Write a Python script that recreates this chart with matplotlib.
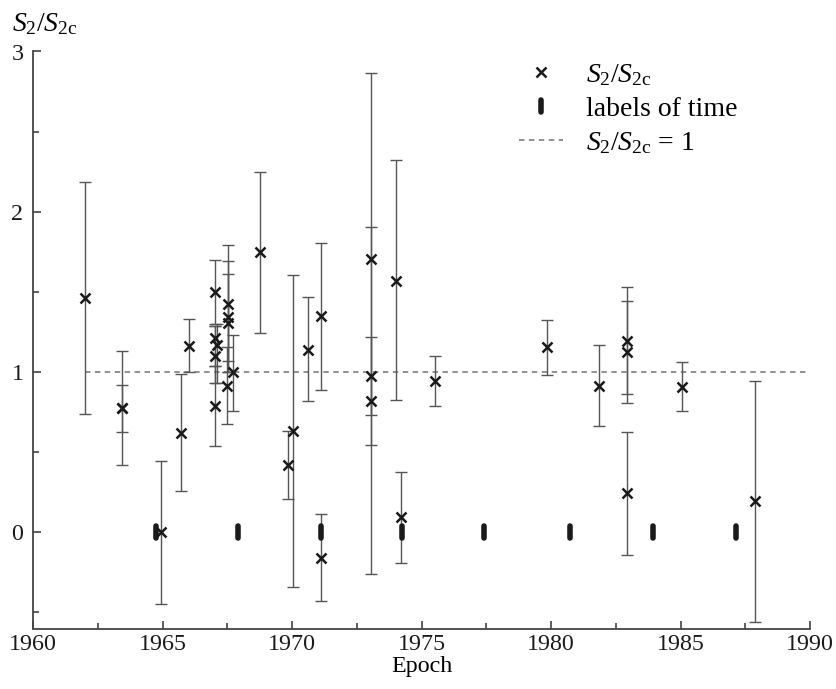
import matplotlib
matplotlib.use("Agg")
import matplotlib.pyplot as plt
import numpy as np
from matplotlib.markers import MarkerStyle

plt.rcParams['font.family'] = 'Liberation Serif'
plt.rcParams['mathtext.fontset'] = 'custom'
plt.rcParams['mathtext.rm'] = 'Liberation Serif'
plt.rcParams['mathtext.it'] = 'Liberation Serif:italic'

# epoch, S2/S2c, lower and upper ends of the error bar
years = [1962.02, 1963.42, 1963.42, 1964.92, 1965.73, 1966.02,
         1967.02, 1967.02, 1967.10, 1967.02, 1967.02,
         1967.53, 1967.53, 1967.53, 1967.47, 1967.70, 1968.76,
         1969.85, 1970.02, 1970.62, 1971.11, 1971.11,
         1973.03, 1973.03, 1973.03, 1974.03, 1974.20, 1975.51,
         1979.86, 1981.87, 1982.92, 1982.92, 1982.92, 1985.04, 1987.88]
ratio = [1.462, 0.775, 0.775, 0.0, 0.621, 1.165,
         1.50, 1.21, 1.17, 1.10, 0.79,
         1.427, 1.344, 1.306, 0.916, 0.999, 1.746,
         0.42, 0.634, 1.14, 1.348, -0.158,
         1.705, 0.974, 0.822, 1.568, 0.095, 0.947,
         1.155, 0.916, 1.192, 1.126, 0.243, 0.908, 0.195]
low = [0.737, 0.419, 0.629, -0.449, 0.257, 0.999,
       1.30, 1.04, 0.933, 0.933, 0.538,
       1.067, 1.0, 1.0, 0.677, 0.760, 1.244,
       0.21, -0.338, 0.818, 0.889, -0.428,
       0.542, 0.729, -0.262, 0.824, -0.189, 0.791,
       0.984, 0.662, 0.864, 0.806, -0.141, 0.760, -0.559]
high = [2.185, 1.132, 0.922, 0.444, 0.989, 1.333,
        1.697, 1.285, 1.30, 1.285, 1.04,
        1.79, 1.69, 1.614, 1.157, 1.234, 2.251,
        0.631, 1.603, 1.466, 1.805, 0.112,
        2.864, 1.219, 1.908, 2.32, 0.378, 1.103,
        1.322, 1.171, 1.53, 1.441, 0.627, 1.064, 0.947]

# labels of time (all at zero)
label_years = [1964.76, 1967.92, 1971.11, 1974.25, 1977.42, 1980.73, 1983.95, 1987.13]

years = np.array(years)
ratio = np.array(ratio)
yerr = np.array([ratio - np.array(low), np.array(high) - ratio])

fig = plt.figure(figsize=(8.36, 6.89), dpi=100)
ax = fig.add_axes([33.1/836, 1-628.5/689, (810-33.1)/836, (628.5-51.5)/689])

ax.errorbar(years, ratio, yerr=yerr, fmt='none', ecolor='#555555',
            elinewidth=1.0, capsize=4.5, capthick=1.0, zorder=2)
ax.plot(years, ratio, ls='none', marker='x', color='#1a1a1a', ms=7.5, mew=1.8,
        zorder=4, label=r'$S_2/S_{2\mathrm{c}}$')
ax.plot(label_years, np.zeros(len(label_years)), ls='none',
        marker=MarkerStyle('|', capstyle='round'), color='#1a1a1a', ms=8.5, mew=4,
        zorder=3, label='labels of time')
ax.plot([1962.0, 1990], [1, 1], ls=(0, (3, 2.5)), color='#888888', lw=1.3,
        zorder=1, label=r'$S_2/S_{2\mathrm{c}}$ = 1')

ax.set_xlim(1960, 1990)
ax.set_ylim(-0.6, 3)
ax.set_xticks(np.arange(1960, 1991, 5))
ax.set_xticks(np.arange(1960, 1991, 2.5), minor=True)
ax.set_yticks([0, 1, 2, 3])
ax.set_yticks(np.arange(-0.5, 3, 0.5), minor=True)

for s in ['top', 'right']:
    ax.spines[s].set_visible(False)
for s in ['left', 'bottom']:
    ax.spines[s].set_color('#444444')
    ax.spines[s].set_linewidth(1.3)
ax.tick_params(which='both', direction='in', color='#444444', width=1.2,
               labelsize=17.3, labelcolor='#1a1a1a')
ax.tick_params(which='major', length=6)
ax.tick_params(which='minor', length=4.5)
ax.tick_params(axis='x', pad=4)
ax.tick_params(axis='y', pad=7)

ax.set_xlabel('Epoch', fontsize=17.3, labelpad=1)
fig.text(12/836, 1-24/689, r'$S_2/S_{2\mathrm{c}}$', fontsize=20, va='center', ha='left')

ax.legend(loc='upper left', bbox_to_anchor=(519/836, 1-62/689),
          bbox_transform=fig.transFigure, frameon=False, fontsize=20,
          handlelength=1.6, handletextpad=0.8, labelspacing=0.3,
          borderpad=0, borderaxespad=0, numpoints=1)

fig.savefig('out.png', dpi=100)
